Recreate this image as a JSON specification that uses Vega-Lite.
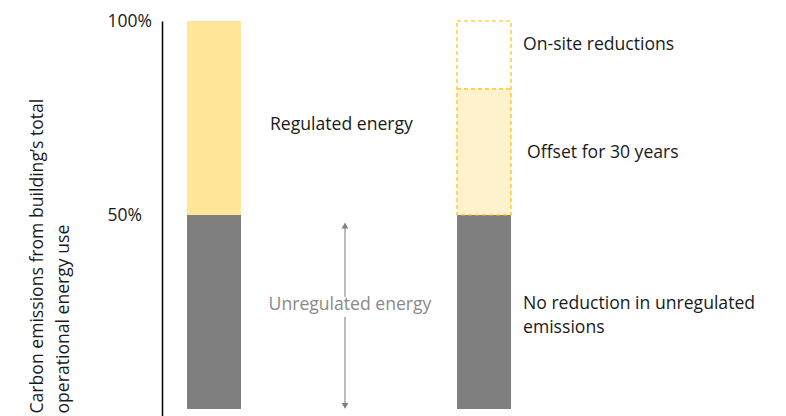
{
  "$schema": "https://vega.github.io/schema/vega-lite/v6.json",
  "width": 624,
  "height": 395,
  "autosize": "none",
  "padding": {"left": 162, "top": 21, "right": 0, "bottom": 0},
  "background": "white",
  "config": {
    "view": {"stroke": null},
    "font": "Open Sans",
    "text": {"font": "Open Sans", "fontSize": 17.6, "color": "#1a1a1a"}
  },
  "datasets": {
    "segments": [
      {"scenario": "Current", "segment": "Unregulated energy", "start": 0, "end": 50},
      {"scenario": "Current", "segment": "Regulated energy", "start": 50, "end": 100},
      {"scenario": "Proposed", "segment": "Unregulated energy", "start": 0, "end": 50},
      {"scenario": "Proposed", "segment": "Offset for 30 years", "start": 50, "end": 82.5},
      {"scenario": "Proposed", "segment": "On-site reductions", "start": 82.5, "end": 100}
    ],
    "arrow": [
      {"scenario": "Current", "from": 47.3, "to": 28.9},
      {"scenario": "Current", "from": 23.7, "to": 0.8}
    ],
    "heads": [
      {"scenario": "Current", "value": 47.3, "dir": "up"},
      {"scenario": "Current", "value": 0.8, "dir": "down"}
    ]
  },
  "layer": [
    {
      "data": {"name": "segments"},
      "mark": {"type": "bar"},
      "encoding": {
        "x": {
          "field": "scenario",
          "type": "nominal",
          "axis": null,
          "scale": {"domain": ["Current", "Proposed"], "paddingInner": 0.8, "paddingOuter": 0.5555, "align": 0.08333, "round": false}
        },
        "y": {
          "field": "start",
          "type": "quantitative",
          "scale": {"domain": [-1.8, 100], "nice": false, "zero": false},
          "axis": {
            "values": [50, 100],
            "labelExpr": "datum.value + '%'",
            "labelFont": "Open Sans",
            "labelFontSize": 17.5,
            "labelColor": "#1a1a1a",
            "labelAlign": "left",
            "labelPadding": 55,
            "ticks": false,
            "grid": false,
            "domainColor": "#000000",
            "domainWidth": 1.5,
            "title": ["Carbon emissions from building’s total", "operational energy use"],
            "titleFont": "Open Sans",
            "titleFontSize": 17.6,
            "titleFontWeight": "normal",
            "titleColor": "#1a1a1a",
            "titleAngle": -90,
            "titleAlign": "left",
            "titleBaseline": "middle",
            "titleLineHeight": 26,
            "titleX": -125,
            "titleY": 392
          }
        },
        "y2": {"field": "end"},
        "color": {
          "field": "segment",
          "type": "nominal",
          "legend": null,
          "scale": {
            "domain": ["Unregulated energy", "Regulated energy", "Offset for 30 years", "On-site reductions"],
            "range": ["#7f7f7f", "#ffe699", "#fff2cc", "#ffffff"]
          }
        }
      }
    },
    {
      "data": {"name": "segments"},
      "transform": [
        {"filter": "datum.segment === 'Offset for 30 years' || datum.segment === 'On-site reductions'"},
        {"aggregate": [{"op": "min", "field": "start", "as": "low"}, {"op": "max", "field": "end", "as": "high"}], "groupby": ["scenario"]}
      ],
      "mark": {"type": "bar", "fillOpacity": 0, "stroke": "#ffc000", "strokeWidth": 1.2, "strokeDash": [4, 3]},
      "encoding": {
        "x": {"field": "scenario", "type": "nominal"},
        "y": {"field": "low", "type": "quantitative"},
        "y2": {"field": "high"}
      }
    },
    {
      "data": {"name": "segments"},
      "transform": [{"filter": "datum.segment === 'On-site reductions'"}],
      "mark": {"type": "rule", "color": "#ffc000", "strokeWidth": 1.2, "strokeDash": [4, 3]},
      "encoding": {
        "x": {"field": "scenario", "type": "nominal", "bandPosition": 0},
        "x2": {"field": "scenario", "bandPosition": 1},
        "y": {"field": "start", "type": "quantitative"}
      }
    },
    {
      "data": {"name": "arrow"},
      "mark": {"type": "rule", "color": "#a6a6a6", "strokeWidth": 1.5, "xOffset": 104},
      "encoding": {
        "x": {"field": "scenario", "type": "nominal", "bandPosition": 1},
        "y": {"field": "from", "type": "quantitative"},
        "y2": {"field": "to"}
      }
    },
    {
      "data": {"name": "heads"},
      "mark": {"type": "point", "filled": true, "color": "#7f7f7f", "size": 45, "opacity": 1, "xOffset": 104},
      "encoding": {
        "x": {"field": "scenario", "type": "nominal", "bandPosition": 1},
        "y": {"field": "value", "type": "quantitative"},
        "shape": {
          "field": "dir",
          "type": "nominal",
          "legend": null,
          "scale": {"domain": ["up", "down"], "range": ["triangle-up", "triangle-down"]}
        }
      }
    },
    {
      "data": {"values": [{"scenario": "Current", "text": "Unregulated energy", "value": 26.8}]},
      "mark": {"type": "text", "align": "center", "baseline": "middle", "dx": 109, "color": "#8a8a8a"},
      "encoding": {
        "x": {"field": "scenario", "type": "nominal", "bandPosition": 1},
        "y": {"field": "value", "type": "quantitative"},
        "text": {"field": "text"}
      }
    },
    {
      "data": {"values": [{"scenario": "Current", "text": "Regulated energy", "value": 73.2}]},
      "mark": {"type": "text", "align": "left", "baseline": "middle", "dx": 29},
      "encoding": {
        "x": {"field": "scenario", "type": "nominal", "bandPosition": 1},
        "y": {"field": "value", "type": "quantitative"},
        "text": {"field": "text"}
      }
    },
    {
      "data": {"values": [
        {"scenario": "Proposed", "text": "On-site reductions", "value": 93.8},
        {"scenario": "Proposed", "text": ["No reduction in unregulated", "emissions"], "value": 27.1}
      ]},
      "mark": {"type": "text", "align": "left", "baseline": "middle", "dx": 12, "lineHeight": 24},
      "encoding": {
        "x": {"field": "scenario", "type": "nominal", "bandPosition": 1},
        "y": {"field": "value", "type": "quantitative"},
        "text": {"field": "text"}
      }
    },
    {
      "data": {"values": [{"scenario": "Proposed", "text": "Offset for 30 years", "value": 66.0}]},
      "mark": {"type": "text", "align": "left", "baseline": "middle", "dx": 16},
      "encoding": {
        "x": {"field": "scenario", "type": "nominal", "bandPosition": 1},
        "y": {"field": "value", "type": "quantitative"},
        "text": {"field": "text"}
      }
    }
  ]
}
